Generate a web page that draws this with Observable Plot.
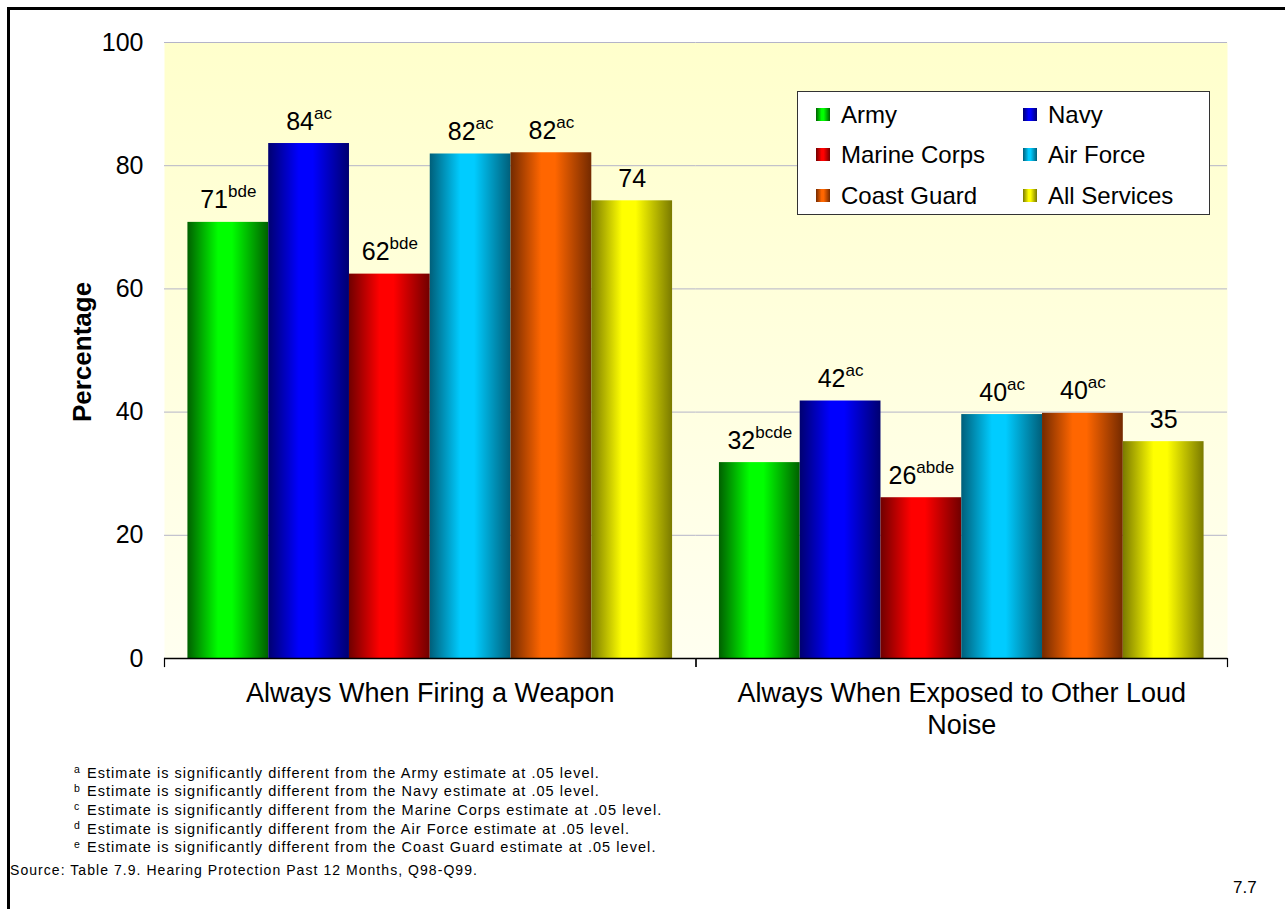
<!DOCTYPE html>
<html><head><meta charset="utf-8">
<script src="https://cdn.jsdelivr.net/npm/d3@7"></script>
<script src="https://cdn.jsdelivr.net/npm/@observablehq/plot@0.6"></script>
<style>
body{margin:0;background:#fff;font-family:"Liberation Sans",Arial,sans-serif;color:#000;}
#wrap{position:relative;width:1285px;height:909px;overflow:hidden;}
#wrap svg{position:absolute;left:0;top:0;}
.abs{position:absolute;white-space:nowrap;line-height:1;}
#border{position:absolute;left:7px;top:7px;width:1400px;height:1000px;border-top:3px solid #000;border-left:3px solid #000;}
#legend{position:absolute;left:797px;top:91px;width:413px;height:124px;border:1.5px solid #333;background:#fff;box-sizing:border-box;}
.sw{position:absolute;width:14px;height:13px;}
.lt{position:absolute;font-size:24px;line-height:1;white-space:nowrap;}
</style></head><body><div id="wrap"><div id="border"></div></div>
<script>
const categories = ["Always When Firing a Weapon", "Always When Exposed to Other Loud\nNoise"];
const services = ["Army", "Navy", "Marine Corps", "Air Force", "Coast Guard", "All Services"];
const firingValues = [70.8, 83.6, 62.4, 81.9, 82.1, 74.3];
const noiseValues = [31.8, 41.8, 26.1, 39.6, 39.8, 35.2];
const firingSup = ["bde", "ac", "bde", "ac", "ac", ""];
const noiseSup = ["bcde", "ac", "abde", "ac", "ac", ""];
const yTicks = [0, 20, 40, 60, 80, 100];
const serviceDark = ["#006000", "#000070", "#700000", "#005f7a", "#742a00", "#7a7a00"];
const serviceBright = ["#00ff00", "#0000ff", "#ff0000", "#00ccff", "#ff6600", "#ffff00"];
const footLetters = ["a", "b", "c", "d", "e"];
const footTexts = [
  "Estimate is significantly different from the Army estimate at .05 level.",
  "Estimate is significantly different from the Navy estimate at .05 level.",
  "Estimate is significantly different from the Marine Corps estimate at .05 level.",
  "Estimate is significantly different from the Air Force estimate at .05 level.",
  "Estimate is significantly different from the Coast Guard estimate at .05 level."
];
const sourceText = "Source: Table 7.9. Hearing Protection Past 12 Months, Q98-Q99.";
const pageNumber = "7.7";
const yLabel = "Percentage";

const rows = [];
[firingValues, noiseValues].forEach((vals, ci) => {
  const sups = ci === 0 ? firingSup : noiseSup;
  vals.forEach((v, i) => rows.push({category: categories[ci], service: services[i], value: v, label: String(Math.round(v)), sup: sups[i], idx: i}));
});

const chart = Plot.plot({
  width: 1285, height: 760,
  marginLeft: 164, marginRight: 58, marginTop: 42, marginBottom: 102,
  style: {fontFamily: "Liberation Sans, Arial, sans-serif", fontSize: "25px", color: "#000", background: "transparent", overflow: "visible"},
  fx: {domain: categories, padding: 0, round: false, axis: null},
  x: {domain: services, paddingInner: 0, paddingOuter: 0.29, round: false, axis: null},
  y: {domain: [0, 100], ticks: yTicks, tickSize: 0, tickPadding: 21, label: null},
  color: {type: "identity"},
  marks: [
    Plot.frame({fill: "url(#plotBg)", stroke: "none"}),
    Plot.gridY(yTicks.slice(1), {stroke: "#B4B4C8", strokeOpacity: 1, strokeWidth: 1}),
    Plot.barY(rows, {fx: "category", x: "service", y: "value", fill: d => `url(#grad${d.idx})`}),
    Plot.ruleY([0], {stroke: "#000", strokeWidth: 1.5}),
    Plot.frame({anchor: "left", stroke: "#000", strokeWidth: 1.2, insetTop: 616, insetBottom: -8}),
    Plot.frame({anchor: "right", stroke: "#000", strokeWidth: 1.2, insetTop: 616, insetBottom: -8}),
    Plot.text(rows, {fx: "category", x: "service", y: "value", text: d => `${d.label}|${d.sup}`, dy: -22, fontSize: 25, fill: "#000", className: "vlabel"}),
    Plot.text(categories, {fx: d => d, text: d => d, frameAnchor: "bottom", lineAnchor: "top", dy: 21, fontSize: 27, lineHeight: 1.185, fill: "#000"})
  ]
});

const wrap = document.getElementById("wrap");
wrap.appendChild(chart);

const svg = d3.select(chart);
const defs = svg.insert("defs", ":first-child");
const bg = defs.append("linearGradient").attr("id", "plotBg").attr("x1", 0).attr("y1", 0).attr("x2", 0).attr("y2", 1);
bg.append("stop").attr("offset", "0").attr("stop-color", "#FFFFCC");
bg.append("stop").attr("offset", "1").attr("stop-color", "#FFFFF0");
services.forEach((s, i) => {
  const g = defs.append("linearGradient").attr("id", `grad${i}`).attr("x1", 0).attr("y1", 0).attr("x2", 1).attr("y2", 0);
  g.append("stop").attr("offset", "0").attr("stop-color", serviceDark[i]);
  g.append("stop").attr("offset", "0.38").attr("stop-color", serviceBright[i]);
  g.append("stop").attr("offset", "0.55").attr("stop-color", serviceBright[i]);
  g.append("stop").attr("offset", "1").attr("stop-color", serviceDark[i]);
});

svg.selectAll("g.vlabel text").each(function () {
  const t = d3.select(this);
  const [n, s] = t.text().split("|");
  t.text(null);
  t.append("tspan").text(n);
  if (s) t.append("tspan").attr("font-size", 17).attr("dy", -11).text(s);
});

function addText(txt, left, baseline, fs, extra = {}) {
  const d = document.createElement("div");
  d.className = "abs";
  d.textContent = txt;
  d.style.left = left + "px";
  d.style.top = (baseline - 0.8465 * fs) + "px";
  d.style.fontSize = fs + "px";
  Object.assign(d.style, extra);
  wrap.appendChild(d);
  return d;
}

// y label
const yl = document.createElement("div");
yl.className = "abs";
yl.textContent = yLabel;
Object.assign(yl.style, {left: "82px", top: "352px", fontSize: "26px", fontWeight: "bold", transform: "translate(-50%,-50%) rotate(-90deg)"});
wrap.appendChild(yl);

// legend
const leg = document.createElement("div");
leg.id = "legend";
wrap.appendChild(leg);
services.forEach((s, i) => {
  const col = i % 2, row = Math.floor(i / 2);
  const cy = 22 + row * 40.5;
  const sx = col === 0 ? 18 : 225;
  const sw = document.createElement("div");
  sw.className = "sw";
  sw.style.left = sx + "px";
  sw.style.top = (cy - 6.5) + "px";
  sw.style.background = `linear-gradient(to right, ${serviceDark[i]} 0%, ${serviceBright[i]} 40%, ${serviceBright[i]} 55%, ${serviceDark[i]} 100%)`;
  leg.appendChild(sw);
  const lt = document.createElement("div");
  lt.className = "lt";
  lt.textContent = s;
  lt.style.left = (sx + 25) + "px";
  lt.style.top = (cy - 12 + 0.5) + "px";
  leg.appendChild(lt);
});

// footnotes
footTexts.forEach((t, i) => {
  const b = 778 + i * 18.6;
  addText(footLetters[i], 74, b - 5, 10.5);
  addText(t, 87, b, 14.5, {letterSpacing: "1.05px"});
});
addText(sourceText, 10, 875, 14, {letterSpacing: "1.05px"});
addText(pageNumber, 1233, 893, 17);
</script>
</body></html>
